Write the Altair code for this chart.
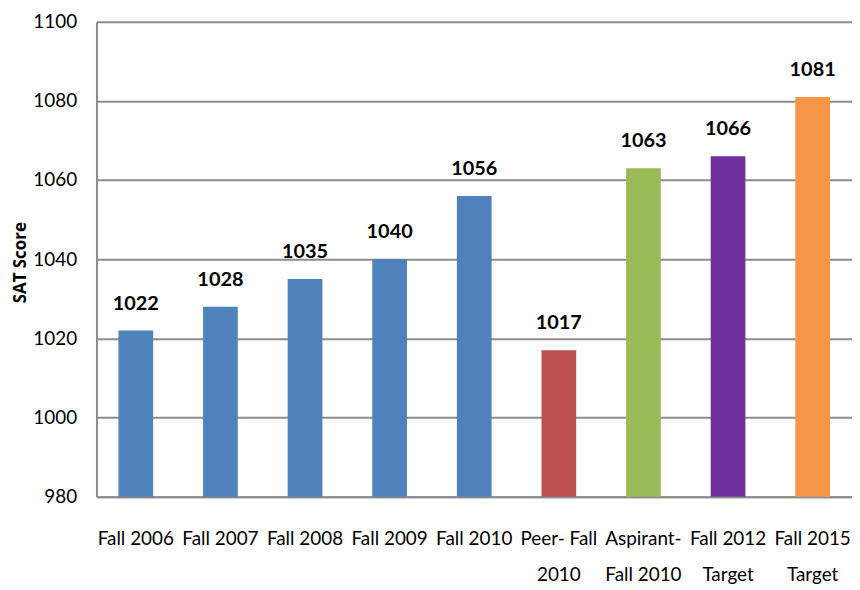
import altair as alt
import pandas as pd

categories = ["Fall  2006", "Fall 2007", "Fall 2008", "Fall 2009", "Fall 2010",
              "Peer- Fall|2010", "Aspirant-|Fall 2010", "Fall 2012|Target", "Fall 2015|Target"]
scores = [1022, 1028, 1035, 1040, 1056, 1017, 1063, 1066, 1081]
colors = ["#4F81BD", "#4F81BD", "#4F81BD", "#4F81BD", "#4F81BD",
          "#C0504D", "#9BBB59", "#7030A0", "#F79646"]
y_ticks = [980, 1000, 1020, 1040, 1060, 1080, 1100]

df = pd.DataFrame({"cat": categories, "score": scores, "color": colors})

FONT = "Lato, sans-serif"
W, H = 760, 478

x = alt.X("cat:N", sort=categories, title=None,
          scale=alt.Scale(paddingInner=0.59, paddingOuter=0.26),
          axis=alt.Axis(labelExpr="split(datum.value, '|')", labelAngle=0,
                        labelFont=FONT, labelFontSize=19, labelColor="#000000",
                        labelLineHeight=36, labelPadding=48, ticks=False,
                        domain=True, domainColor="#8c8c8c", domainWidth=2,
                        labelBaseline="alphabetic"))
y = alt.Y("score:Q", title="SAT Score",
          scale=alt.Scale(domain=[980, 1100], zero=False, nice=False),
          axis=alt.Axis(values=y_ticks, format="d", labelFont=FONT, labelFontSize=19,
                        labelColor="#000000", labelPadding=20, ticks=False,
                        grid=True, gridColor="#8c8c8c", gridWidth=2,
                        domain=True, domainColor="#8c8c8c", domainWidth=2,
                        titleFont="Open Sans, DejaVu Sans, sans-serif", titleFontSize=17,
                        titleFontWeight="bold", titleColor="#000000",
                        titleAngle=-90, titleX=-76, titleY=242,
                        titleAlign="center", titleBaseline="middle"))

bars = alt.Chart(df).mark_bar().encode(
    x=x, y=y, y2=alt.datum(980),
    color=alt.Color("color:N", scale=None),
)
labels = alt.Chart(df).mark_text(
    font=FONT, fontSize=20, fontWeight="bold", color="#000000",
    baseline="alphabetic", dy=-21,
).encode(x=alt.X("cat:N", sort=categories), y="score:Q", text="score:Q")

chart = (bars + labels).properties(
    width=W, height=H,
    autosize=alt.AutoSizeParams(type="none"),
    padding={"left": 89, "top": 12, "right": 0, "bottom": 92},
).configure_view(stroke=None).configure(background="#ffffff")

chart.save("out.html", embed_options={"renderer": "svg", "actions": False})
